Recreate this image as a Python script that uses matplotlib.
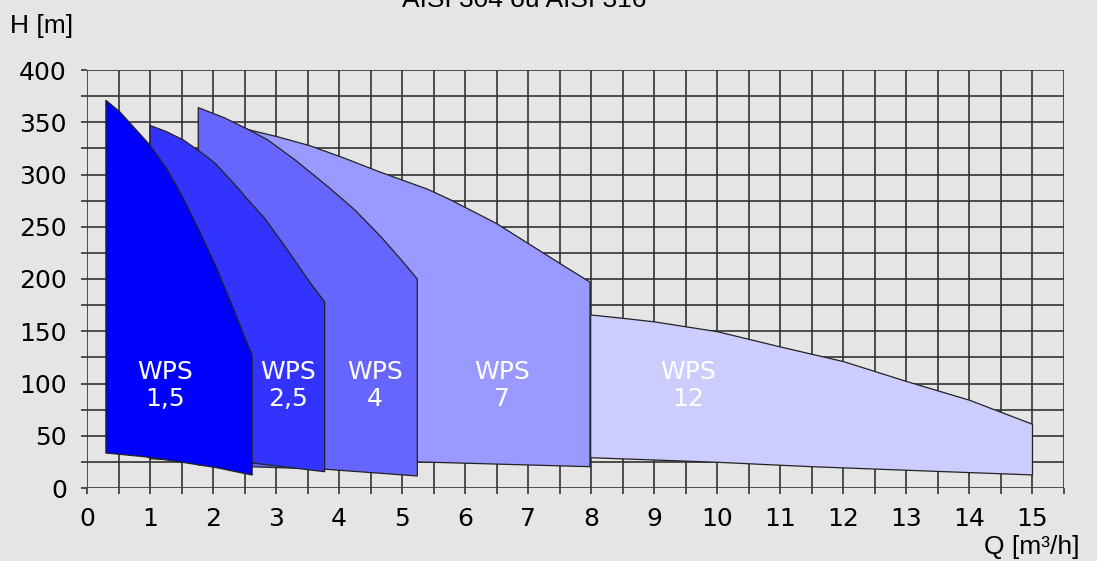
import matplotlib
matplotlib.use("Agg")
import matplotlib.pyplot as plt
import numpy as np

# ---- data ----
names = ["WPS\n1,5", "WPS\n2,5", "WPS\n4", "WPS\n7", "WPS\n12"]
colors = ["#0000FF", "#3333FF", "#6666FF", "#9999FF", "#CCCCFF"]

upper_q = [
    [0.30, 0.52, 0.73, 1.0, 1.26, 1.53, 1.79, 2.06, 2.32, 2.53, 2.62],
    [1.0, 1.26, 1.53, 1.79, 2.03, 2.32, 2.58, 2.82, 3.19, 3.51, 3.77],
    [1.765, 2.19, 2.56, 2.87, 3.30, 3.83, 4.25, 4.67, 4.99, 5.24],
    [2.5, 2.58, 3.03, 3.54, 4.09, 4.62, 5.40, 5.76, 6.50, 7.0, 7.5, 7.98],
    [7.99, 8.5, 9.0, 10.0, 11.0, 12.0, 13.0, 14.0, 15.0],
]
upper_h = [
    [371, 360, 346, 328, 306, 277, 245, 210, 172, 140, 127],
    [347, 341, 333, 322, 311, 292, 274, 258, 227, 199, 178],
    [364, 354, 343, 333, 314, 288, 266, 240, 218, 200],
    [344, 342.6, 336, 327.5, 315.5, 303, 286, 276, 253, 234, 215, 197],
    [165.6, 162.4, 159, 149.6, 135, 121, 102, 84, 61],
]
lower_q = [
    [0.30, 0.90, 1.47, 2.05, 2.62],
    [1.0, 2.61, 3.77],
    [1.765, 3.77, 5.24],
    [2.5, 5.24, 7.98],
    [7.99, 10.0, 11.49, 15.0],
]
lower_h = [
    [33.5, 30, 25, 19.5, 12.4],
    [28, 24, 15.6],
    [22, 18, 11.5],
    [27, 25, 20.4],
    [29, 24.6, 20.4, 12.5],
]
label_q = [1.24, 3.19, 4.57, 6.58, 9.53]
label_h = [98, 98, 98, 98, 98]

# ---- figure ----
bg = "#E5E5E5"
fig = plt.figure(figsize=(10.97, 5.61), dpi=100, facecolor=bg)
ax = fig.add_axes([87/1097, 73/561, 977/1097, 418/561])
ax.set_facecolor(bg)

ax.set_xlim(0, 15.5)
ax.set_ylim(0, 400)

xt = np.arange(0, 15.51, 0.5)
yt = np.arange(0, 401, 25)
ax.set_xticks(xt)
ax.set_xticklabels([str(int(v)) if float(v).is_integer() else "" for v in xt])
ax.set_yticks(yt)
ax.set_yticklabels([str(int(v)) if int(v) % 50 == 0 else "" for v in yt])
ax.tick_params(axis="both", direction="out", length=4.5, width=1.2, color="#333333",
               labelsize=18, labelcolor="black")
ax.tick_params(axis="x", pad=9)
ax.tick_params(axis="y", pad=10)
for lab in ax.get_xticklabels() + ax.get_yticklabels():
    lab.set_family("DejaVu Sans")

ax.grid(True, color="#333333", linewidth=1.2)
ax.set_axisbelow(True)
for s in ax.spines.values():
    s.set_visible(False)

# draw back to front
for i in reversed(range(len(names))):
    xs = list(upper_q[i]) + list(lower_q[i][::-1])
    ys = list(upper_h[i]) + list(lower_h[i][::-1])
    ax.fill(xs, ys, facecolor=colors[i], edgecolor="#222222", linewidth=0.9,
            joinstyle="round", zorder=3 + (len(names) - i))

for i in range(len(names)):
    ax.text(label_q[i], label_h[i], names[i], color="white", ha="center", va="center",
            fontsize=18, family="DejaVu Sans", linespacing=1.2, zorder=20)

fig.text(524/1097, 1 - 7/561, "AISI 304 ou AISI 316", ha="center", va="baseline",
         fontsize=19, family="Liberation Sans", color="black")
fig.text(10/1097, 1 - 33/561, "H [m]", ha="left", va="baseline",
         fontsize=19, family="Liberation Sans", color="black")
fig.text(1079/1097, 1 - 554/561, "Q [m³/h]", ha="right", va="baseline",
         fontsize=19, family="Liberation Sans", color="black")

fig.savefig("out.png", dpi=100, facecolor=bg)
